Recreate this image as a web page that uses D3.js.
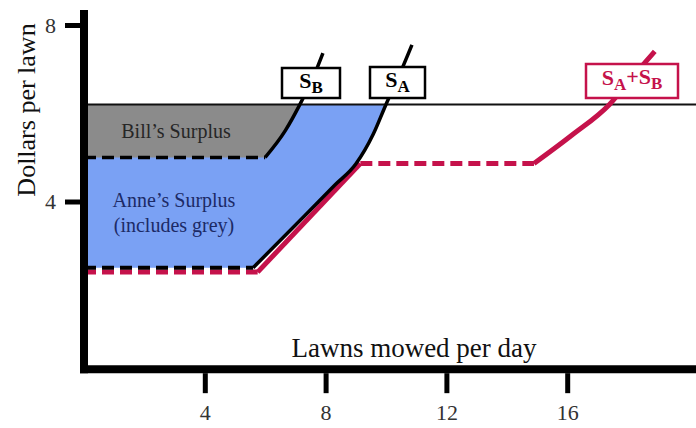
<!DOCTYPE html>
<meta charset="utf-8">
<script src="https://d3js.org/d3.v7.min.js"></script>
<style>
  body { margin: 0; background: #fff; }
  text { font-family: "Liberation Serif", "Times New Roman", serif; }
</style>
<div id="my_dataviz"></div>
<script>

  // data (lawns, dollars)
  var xTicks = [4, 8, 12, 16];
  var yTicks = [4, 8];
  var price = 6.2;

  var anneFlat = [[0, 2.5], [5.6, 2.5]];
  var anneCurve = [[5.6, 2.5], [7.3, 3.67], [8.3, 4.37], [9.0, 4.85], [9.58, 5.53], [10.0, 6.2], [10.4, 6.8], [10.86, 7.55]];

  var billFlat = [[0, 5.0], [6.0, 5.0]];
  var billCurve = [[6.0, 5.0], [6.66, 5.6], [7.15, 6.2], [7.72, 7.03], [7.91, 7.36]];

  var sumFlatLow = [[0, 2.4], [5.75, 2.4]];
  var sumRise = [[5.75, 2.4], [9.15, 4.86]];
  var sumFlatMid = [[9.15, 4.86], [14.9, 4.86]];
  var sumCurve = [[14.9, 4.86], [16.15, 5.5], [17.4, 6.2], [18.2, 6.85], [18.9, 7.4]];

  var width = 696, height = 428;
  var red = "#c5124b", blue = "#7aa1f4", grey = "#8b8b8b";

  var svg = d3.select("#my_dataviz")
    .append("svg")
    .attr("width", width)
    .attr("height", height);

  var x = d3.scaleLinear().domain([0, 20]).range([84, 688]);
  var y = d3.scaleLinear().domain([0, 8]).range([378, 25]);

  var line = d3.line()
    .x(function (d) { return x(d[0]); })
    .y(function (d) { return y(d[1]); })
    .curve(d3.curveMonotoneX);

  // clip so surplus areas stop at the price line
  svg.append("clipPath").attr("id", "belowPrice")
    .append("rect")
    .attr("x", x(0)).attr("y", y(price))
    .attr("width", width).attr("height", height);

  function surplusPath(flat, curve) {
    var top = curve[curve.length - 1];
    return "M" + x(flat[0][0]) + "," + y(flat[0][1]) +
      line(curve).replace(/^M/, "L") +
      "L" + x(0) + "," + y(top[1]) + "Z";
  }

  svg.append("path")
    .attr("d", surplusPath(anneFlat, anneCurve))
    .attr("fill", blue)
    .attr("clip-path", "url(#belowPrice)");

  svg.append("path")
    .attr("d", surplusPath(billFlat, billCurve))
    .attr("fill", grey)
    .attr("clip-path", "url(#belowPrice)");

  // price line
  svg.append("line")
    .attr("x1", x(0)).attr("x2", width)
    .attr("y1", y(price)).attr("y2", y(price))
    .attr("stroke", "#111").attr("stroke-width", 2);

  // market supply (red)
  function drawLine(pts, color, w, dashed) {
    svg.append("path")
      .attr("d", line(pts))
      .attr("fill", "none")
      .attr("stroke", color)
      .attr("stroke-width", w)
      .attr("stroke-dasharray", dashed ? "12,6" : null);
  }
  drawLine(sumFlatLow, red, 5, true);
  drawLine(sumRise, red, 5, false);
  drawLine(sumFlatMid, red, 5, true);
  drawLine(sumCurve, red, 5, false);

  // individual supplies (black)
  drawLine(anneFlat, "#000", 4, true);
  drawLine(anneCurve, "#000", 3.5, false);
  drawLine(billFlat, "#000", 3.5, true);
  drawLine(billCurve, "#000", 3.5, false);

  // surplus labels
  svg.append("text").attr("x", 176).attr("y", 138)
    .attr("text-anchor", "middle").attr("font-size", 20).attr("fill", "#262626")
    .text("Bill\u2019s Surplus");
  svg.append("text").attr("x", 174).attr("y", 207)
    .attr("text-anchor", "middle").attr("font-size", 20).attr("fill", "#1c2a66")
    .text("Anne\u2019s Surplus");
  svg.append("text").attr("x", 174).attr("y", 232)
    .attr("text-anchor", "middle").attr("font-size", 20).attr("fill", "#1c2a66")
    .text("(includes grey)");

  // curve name boxes
  function nameBox(x0, y0, w, h, color, parts) {
    var g = svg.append("g");
    g.append("rect")
      .attr("x", x0).attr("y", y0).attr("width", w).attr("height", h)
      .attr("fill", "#fff").attr("stroke", color).attr("stroke-width", 2.5);
    var t = g.append("text")
      .attr("x", x0 + w / 2).attr("y", y0 + 20)
      .attr("text-anchor", "middle").attr("fill", color)
      .attr("font-weight", "bold");
    parts.forEach(function (p) {
      t.append("tspan")
        .attr("font-size", p[1] ? 17 : 22)
        .attr("dy", p[2])
        .text(p[0]);
    });
  }
  nameBox(282, 68, 58, 30, "#000", [["S", 0, 0], ["B", 1, 5]]);
  nameBox(370, 67, 55, 31, "#000", [["S", 0, 0], ["A", 1, 5]]);
  nameBox(586, 64, 92, 34, red, [["S", 0, 1], ["A", 1, 5], ["+", 0, -6], ["S", 0, 0], ["B", 1, 5]]);

  // axes
  var xAxis = svg.append("g")
    .attr("transform", "translate(0," + (y(0.2) + 4) + ")")
    .call(d3.axisBottom(x).tickValues(xTicks).tickSize(20).tickPadding(11));
  var yAxis = svg.append("g")
    .attr("transform", "translate(" + (x(0) - 4) + ",0)")
    .call(d3.axisLeft(y).tickValues(yTicks).tickSize(15).tickPadding(9));

  [xAxis, yAxis].forEach(function (a) {
    a.select(".domain").remove();
    a.selectAll(".tick line").attr("stroke", "#000").attr("stroke-width", 5);
    a.selectAll(".tick text")
      .attr("font-family", "'Liberation Serif', 'Times New Roman', serif")
      .attr("font-weight", "normal")
      .attr("font-size", 22).attr("fill", "#333");
  });

  svg.append("line")
    .attr("x1", x(0) - 4).attr("x2", width)
    .attr("y1", y(0.2)).attr("y2", y(0.2))
    .attr("stroke", "#000").attr("stroke-width", 8);
  svg.append("line")
    .attr("x1", x(0)).attr("x2", x(0))
    .attr("y1", y(0.2) + 4).attr("y2", 10)
    .attr("stroke", "#000").attr("stroke-width", 8);

  svg.append("text")
    .attr("x", 414).attr("y", 357)
    .attr("text-anchor", "middle").attr("font-size", 27).attr("fill", "#111")
    .text("Lawns mowed per day");

  svg.append("text")
    .attr("transform", "translate(35,110) rotate(-90)")
    .attr("text-anchor", "middle").attr("font-size", 26).attr("fill", "#111")
    .text("Dollars per lawn");

</script>
